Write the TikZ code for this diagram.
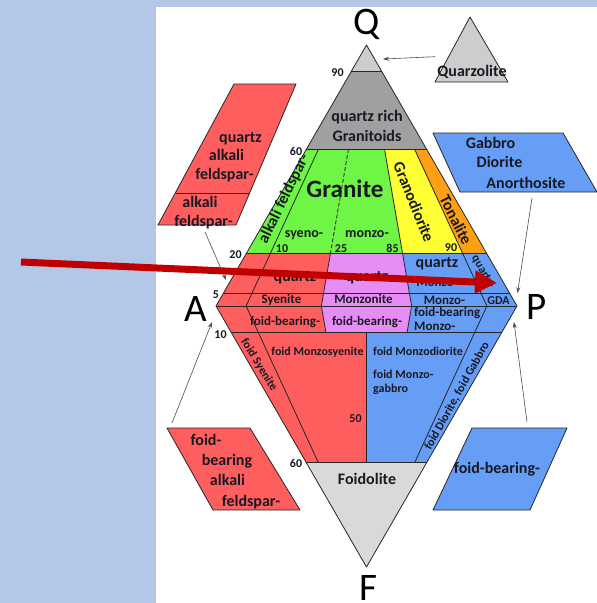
\documentclass[tikz,border=0pt]{standalone}
\usepackage{fontspec}
\setmainfont{Carlito}
\usetikzlibrary{arrows.meta}
\definecolor{bgblue}{RGB}{180,199,231}
\definecolor{cred}{RGB}{255,94,94}
\definecolor{cgrn}{RGB}{110,245,70}
\definecolor{cyel}{RGB}{255,255,51}
\definecolor{corg}{RGB}{255,160,20}
\definecolor{cvio}{RGB}{232,140,245}
\definecolor{cblu}{RGB}{102,158,245}
\definecolor{cgry}{RGB}{160,160,160}
\definecolor{clgry}{RGB}{205,205,205}
\definecolor{cfdl}{RGB}{217,217,217}
\definecolor{arrowred}{RGB}{192,0,0}
\definecolor{txt}{RGB}{25,25,35}
\newcommand{\defU}[3]{\coordinate (#1) at ({366.5+(301*#2-150.5)*(1-#3)},{306-261*#3});}
\newcommand{\defL}[3]{\coordinate (#1) at ({366.5+(301*#2-150.5)*(1-#3)},{306+261*#3});}
\begin{document}
\begin{tikzpicture}[x=1pt,y=-1pt,
  edge/.style={draw=black!85, line width=0.8pt, line join=round},
  lb/.style={inner sep=0pt, anchor=base, text=txt, font=\fontsize{16}{18}\selectfont\bfseries},
  lt/.style={lb, font=\fontsize{14}{16}\selectfont\bfseries},
  lm/.style={lb, font=\fontsize{13}{15}\selectfont\bfseries},
  ls/.style={lb, font=\fontsize{12}{14}\selectfont\bfseries},
  nm/.style={lb, font=\fontsize{12}{14}\selectfont\bfseries},
  vx/.style={inner sep=0pt, anchor=base, text=black, font=\fontsize{39}{41}\selectfont},
  conn/.style={draw=black!70, line width=0.6pt, -{Stealth[length=6pt,width=4pt]}},
  bigarrow/.style={draw=arrowred, line width=7pt, -{Triangle[length=22pt,width=22pt]}}
]
\useasboundingbox (0,0) rectangle (597,603);
\fill[bgblue] (0,0) rectangle (597,603);
\fill[white] (156,7) rectangle (597,603);

% main points
\coordinate (Q) at (366.5,45);
\coordinate (A) at (216,306);
\coordinate (P) at (517,306);
\coordinate (F) at (366.5,567);
\defU{u0-90}{0}{0.9}
\defU{u100-90}{1}{0.9}
\foreach \r/\n in {0/0,0.1/10,0.35/35,0.65/65,0.9/90,1/100}{
  \defU{u\n-60}{\r}{0.6}
  \defU{u\n-20}{\r}{0.2}
  \defU{u\n-5}{\r}{0.05}
  \defU{b\n}{\r}{0}
}
\foreach \r/\n in {0/0,0.1/10,0.35/35,0.5/50,0.65/65,0.9/90,1/100}{
  \defL{l\n-10}{\r}{0.1}
  \defL{l\n-60}{\r}{0.6}
}

% fills
\fill[clgry] (Q) -- (u0-90) -- (u100-90) -- cycle;
\fill[cgry] (u0-90) -- (u100-90) -- (u100-60) -- (u0-60) -- cycle;
\fill[cgrn] (u0-60) -- (u65-60) -- (u65-20) -- (u0-20) -- cycle;
\fill[cyel] (u65-60) -- (u90-60) -- (u90-20) -- (u65-20) -- cycle;
\fill[corg] (u90-60) -- (u100-60) -- (u100-20) -- (u90-20) -- cycle;
\fill[cred] (u0-20) -- (u35-20) -- (b35) -- (l35-10) -- (l0-10) -- (A) -- cycle;
\fill[cvio] (u35-20) -- (u65-20) -- (b65) -- (l65-10) -- (l35-10) -- (b35) -- cycle;
\fill[cblu] (u65-20) -- (u100-20) -- (P) -- (l100-10) -- (l65-10) -- (b65) -- cycle;
\fill[cred] (l0-10) -- (l50-10) -- (l50-60) -- (l0-60) -- cycle;
\fill[cblu] (l50-10) -- (l100-10) -- (l100-60) -- (l50-60) -- cycle;
\fill[cfdl] (l0-60) -- (l100-60) -- (F) -- cycle;

% lines
\draw[edge] (Q) -- (A) -- (F) -- (P) -- cycle;
\draw[edge] (u0-90) -- (u100-90);
\draw[edge] (u0-60) -- (u100-60);
\draw[edge] (u0-20) -- (u100-20);
\draw[edge] (u0-5) -- (u100-5);
\draw[edge] (A) -- (P);
\draw[edge] (l0-10) -- (l100-10);
\draw[edge] (l0-60) -- (l100-60);
\draw[edge] (u10-60) -- (u10-20);
\draw[edge, dashed, dash pattern=on 4pt off 2pt] (u35-60) -- (u35-20);
\draw[edge] (u65-60) -- (u65-20);
\draw[edge] (u90-60) -- (u90-20);
\draw[edge] (u10-20) -- (b10) -- (l10-10);
\draw[edge] (u35-20) -- (b35) -- (l35-10);
\draw[edge] (u65-20) -- (b65) -- (l65-10);
\draw[edge] (u90-20) -- (b90) -- (l90-10);
\draw[edge] (l10-10) -- (l10-60);
\draw[edge] (l50-10) -- (l50-60);
\draw[edge] (l90-10) -- (l90-60);

% vertex letters
\node[vx] (tQ) at (367,34) {Q};
\node[vx] (tA) at (196,321) {A};
\node[vx] (tP) at (537,319) {P};
\node[vx] (tF) at (368,600.5) {F};

% numbers
\node[nm] (n90) at (337.5,76) {90};
\node[nm] (n60) at (296,155) {60};
\node[nm] (n20) at (235.5,258) {20};
\node[nm] (n5) at (216,298) {5};
\node[nm] (n10) at (220.5,338) {10};
\node[nm] (n60b) at (296,467.5) {60};
\node[nm] (n50) at (355.5,422) {50};
\node[nm] (n10u) at (282,252.5) {10};
\node[nm] (n25) at (341,252.5) {25};
\node[nm] (n85) at (392.5,252.5) {85};
\node[nm] (n90u) at (451,251.5) {90};

% region labels
\node[lb] (t-qr1) at (367,121.5) {quartz rich};
\node[lb] (t-qr2) at (367,141.5) {Granitoids};
\node[lb, font=\fontsize{25}{28}\selectfont\bfseries] (t-gr) at (345,197) {Granite};
\node[lt] (t-sy) at (304,237.5) {syeno-};
\node[lt] (t-mz) at (367,237.5) {monzo-};
\node[lb, rotate=64, anchor=center] (t-afs) at (284,199) {alkali feldspar-};
\node[lb, rotate=-68, anchor=center] (t-gd) at (414,202) {Granodiorite};
\node[lb, rotate=-63, anchor=center] (t-to) at (456,220) {Tonalite};

\node[lb] (t-q1) at (295,281) {quartz};
\node[lb] (t-q2) at (367,281) {quartz};
\node[lb] (t-q3) at (437,267) {quartz};
\node[lm] (t-mz1) at (437,286) {Monzo-};
\node[ls, rotate=-60, anchor=center] (t-q4) at (483,272) {quartz-};
\node[lm] (t-sye) at (281.5,303) {Syenite};
\node[lm] (t-mzn) at (363.5,303) {Monzonite};
\node[lm] (t-mz2) at (444.5,304) {Monzo-};
\node[ls] (t-gda) at (498.5,304) {GDA};
\node[lm] (t-fb1) at (285,325) {foid-bearing-};
\node[lm] (t-fb2) at (367,325) {foid-bearing-};
\node[lm, anchor=base west] (t-fb3) at (414,316) {foid-bearing};
\node[lm, anchor=base west] (t-mz3) at (414,330.5) {Monzo-};

\node[ls] (t-fms) at (317.5,355) {foid Monzosyenite};
\node[ls] (t-fmd) at (418,355) {foid Monzodiorite};
\node[ls, anchor=base west] (t-fm1) at (373,378) {foid Monzo-};
\node[ls, anchor=base west] (t-fm2) at (373,392) {gabbro};
\node[ls, rotate=-58, anchor=center] (t-fsy) at (259,365) {foid Syenite};
\node[ls, rotate=61, anchor=center] (t-fdg) at (457,396) {foid Diorite, foid Gabbro};
\node[lb] (t-fdl) at (367,484) {Foidolite};

% side shapes
\draw[edge, fill=clgry] (470,17) -- (435,82) -- (508,82) -- cycle;
\node[lb] (t-qz) at (472,76) {Quarzolite};

\draw[edge, fill=cred] (234,84) -- (296,84) -- (236,225) -- (158,225) -- cycle;
\draw[edge] (175.5,193) -- (249.6,193);
\node[lb] (t-b1a) at (240.5,142) {quartz};
\node[lb] (t-b1b) at (226.5,160) {alkali};
\node[lb] (t-b1c) at (224.5,179) {feldspar-};
\node[lb] (t-b1d) at (200,207) {alkali};
\node[lb] (t-b1e) at (203.5,226) {feldspar-};

\draw[edge, fill=cblu] (433,133) -- (563,133) -- (597,192) -- (460,192) -- cycle;
\node[lb] (t-b2a) at (490.5,148) {Gabbro};
\node[lb] (t-b2b) at (499.5,167) {Diorite};
\node[lb] (t-b2c) at (526,188) {Anorthosite};

\draw[edge, fill=cred] (167,428) -- (250,428) -- (300,510) -- (213,510) -- cycle;
\node[lb] (t-b3a) at (206,445) {foid-};
\node[lb] (t-b3b) at (227,465) {bearing};
\node[lb] (t-b3c) at (227.5,485) {alkali};
\node[lb] (t-b3d) at (251,506) {feldspar-};

\draw[edge, fill=cblu] (472,428) -- (567,428) -- (530,510) -- (433,510) -- cycle;
\node[lb] (t-b4a) at (497,473) {foid-bearing-};

% connectors
\coordinate (c1s) at (435,56.7); \coordinate (c1e) at (383,59);
\coordinate (c2s) at (205,232); \coordinate (c2e) at (226,280);
\coordinate (c3s) at (532,198); \coordinate (c3e) at (517.5,293);
\coordinate (c4s) at (172,423); \coordinate (c4e) at (212,322);
\coordinate (c5s) at (527,422); \coordinate (c5e) at (514,322);
\draw[conn] (c1s) -- (c1e);
\draw[conn] (c2s) -- (c2e);
\draw[conn] (c3s) -- (c3e);
\draw[conn] (c4s) -- (c4e);
\draw[conn] (c5s) -- (c5e);

% big red arrow
\coordinate (ra-s) at (21,262);
\coordinate (ra-e) at (497,283);
\draw[bigarrow] (ra-s) -- (ra-e);
\end{tikzpicture}
\end{document}
